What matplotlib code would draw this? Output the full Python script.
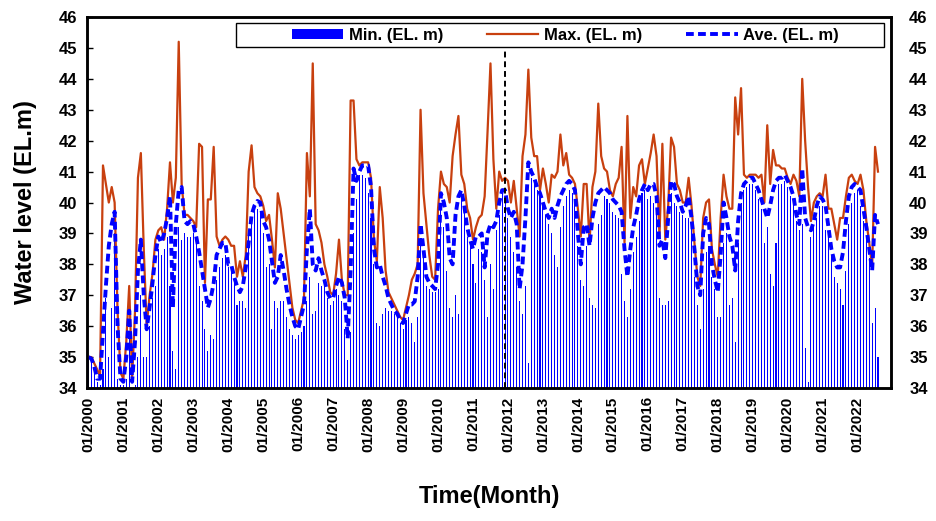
import matplotlib
matplotlib.use("Agg")
import matplotlib.pyplot as plt
from matplotlib.patches import Rectangle, Patch
from matplotlib.lines import Line2D
import numpy as np

plt.rcParams['font.family'] = ['Liberation Sans', 'DejaVu Sans']

# Monthly values, 01/2000 .. 08/2022 (EL. m)
min_2000_2005 = [
    34.9, 34.8, 34.6, 34.2, 34.1, 34.6, 36.9, 35.0, 36.6, 39.0, 34.3, 34.1,
    34.1, 34.3, 35.6, 34.0, 34.1, 35.0, 37.0, 35.0, 35.0, 36.0, 36.9, 37.3,
    38.5, 38.3, 38.5, 38.9, 37.3, 35.2, 34.6, 39.2, 38.8, 39.0, 38.9, 38.9,
    39.0, 38.7, 37.3, 36.8, 35.9, 35.2, 35.7, 35.6, 37.5, 37.9, 38.2, 38.3,
    37.9, 37.8, 37.4, 36.7, 36.8, 36.8, 36.6, 39.0, 39.3, 39.8, 39.8, 39.7,
    39.0, 37.9, 38.0, 35.9, 36.8, 36.6, 36.8, 36.8, 36.3, 35.9, 35.7, 35.6]
min_2006_2011 = [
    35.7, 35.8, 36.0, 36.8, 37.6, 36.4, 36.5, 37.4, 37.3, 37.3, 36.9, 36.7,
    36.8, 37.2, 37.0, 36.8, 35.9, 34.9, 35.8, 39.0, 40.1, 40.9, 40.9, 40.8,
    40.3, 39.5, 38.0, 36.1, 36.0, 36.4, 36.6, 36.5, 36.5, 36.4, 36.3, 36.1,
    35.9, 36.2, 36.3, 36.1, 35.5, 36.3, 38.6, 38.3, 37.3, 37.2, 37.1, 37.1,
    37.2, 40.0, 39.2, 37.8, 36.6, 36.3, 37.0, 36.4, 40.2, 39.8, 38.9, 38.6,
    38.0, 37.4, 38.5, 38.4, 37.5, 36.3, 38.0, 37.2, 39.1, 39.6, 40.3, 40.0]
min_2012_2017 = [
    39.5, 38.9, 38.4, 37.9, 36.8, 36.4, 37.3, 34.8, 40.8, 40.6, 40.4, 40.2,
    39.9, 39.6, 39.3, 39.0, 38.3, 37.9, 39.2, 39.9, 40.2, 40.4, 40.3, 40.0,
    38.6, 37.5, 37.3, 38.6, 36.9, 36.7, 36.6, 39.3, 39.6, 40.2, 40.1, 40.0,
    39.7, 39.6, 39.5, 37.7, 36.8, 36.3, 37.2, 38.4, 38.9, 39.4, 40.3, 40.4,
    40.1, 40.2, 40.0, 39.8, 36.9, 36.7, 36.7, 36.8, 40.3, 40.0, 39.9, 39.7,
    39.6, 39.5, 39.5, 39.3, 37.6, 36.7, 35.9, 37.2, 38.4, 38.6, 37.6, 37.2]
min_2018_2022 = [
    36.3, 36.3, 38.7, 39.0, 36.7, 36.9, 35.5, 38.7, 40.0, 40.4, 40.5, 40.6,
    40.6, 40.4, 40.1, 39.8, 38.7, 39.2, 37.7, 37.3, 38.7, 40.6, 40.6, 40.7,
    40.5, 40.2, 40.0, 39.4, 39.1, 39.3, 35.3, 34.2, 38.9, 39.2, 39.5, 39.9,
    39.9, 39.1, 38.9, 38.3, 37.6, 37.4, 37.2, 36.7, 37.8, 39.3, 40.0, 40.3,
    40.4, 39.9, 39.4, 38.9, 38.2, 36.1, 36.6, 35.0]

max_2000_2005 = [
    35.0, 35.0, 34.8, 34.6, 34.4, 41.2, 40.6, 40.0, 40.5, 40.0, 36.5, 34.5,
    34.3, 35.5, 37.3, 34.3, 36.5, 40.8, 41.6, 38.5, 36.0, 37.0, 37.7, 38.8,
    39.1, 39.2, 38.8, 39.8, 41.3, 40.0, 40.8, 45.2, 40.6, 39.6, 39.6, 39.5,
    39.4, 39.2, 41.9, 41.8, 37.4, 40.1, 40.1, 41.8, 38.9, 38.6, 38.8, 38.9,
    38.8, 38.6, 38.6, 37.6, 38.1, 37.6, 38.3, 41.0, 41.85, 40.5, 40.3, 40.2,
    39.9, 39.4, 39.6, 38.8, 37.9, 40.3, 39.8, 39.0, 38.2, 37.4, 36.6, 36.2]
max_2006_2011 = [
    36.1, 36.5, 36.9, 41.6, 40.2, 44.5, 39.3, 39.1, 38.7, 38.0, 37.6, 37.1,
    37.0, 37.7, 38.8, 37.5, 37.0, 37.0, 43.3, 43.3, 41.4, 41.2, 41.3, 41.3,
    41.3, 40.8, 38.8, 38.1, 40.5, 39.5, 37.8, 37.1, 36.9, 36.7, 36.5, 36.3,
    36.2, 36.6, 37.0, 37.5, 37.7, 38.0, 43.0, 40.3, 39.3, 38.3, 37.6, 37.5,
    39.8, 41.0, 40.6, 40.5, 40.0, 41.5, 42.2, 42.8, 40.9, 40.6, 39.8, 39.5,
    38.8, 39.2, 39.5, 39.6, 40.2, 42.3, 44.5, 41.4, 39.8, 41.0, 40.7, 40.8]
max_2012_2017 = [
    40.7, 40.0, 40.7, 39.8, 38.9, 41.5, 42.2, 44.3, 42.1, 41.5, 41.5, 40.4,
    41.1, 40.6, 40.0, 40.9, 40.8, 41.0, 42.2, 41.2, 41.6, 40.9, 40.8, 40.6,
    39.8, 38.9, 40.6, 40.6, 38.7, 40.5, 41.0, 43.2, 41.5, 41.1, 41.0, 40.4,
    40.2, 40.6, 40.8, 41.8, 38.7, 42.8, 39.5, 40.5, 40.2, 41.2, 41.4, 40.6,
    41.1, 41.6, 42.2, 41.5, 38.9, 41.9, 38.8, 39.9, 42.1, 41.8, 40.6, 40.4,
    40.0, 40.0, 40.8, 39.9, 38.7, 37.6, 37.3, 39.5, 40.0, 40.1, 38.5, 38.0]
max_2018_2022 = [
    37.6, 39.5, 40.9, 40.2, 39.8, 39.8, 43.4, 42.2, 43.7, 40.9, 40.8, 40.9,
    40.9, 40.9, 40.8, 40.9, 40.0, 42.5, 40.6, 41.7, 41.2, 41.2, 41.1, 41.1,
    40.8, 40.6, 40.9, 40.7, 40.2, 44.0, 42.0, 40.5, 39.4, 40.0, 40.2, 40.3,
    40.2, 40.9, 39.8, 39.8, 39.3, 38.8, 39.5, 39.5, 40.2, 40.8, 40.9, 40.7,
    40.6, 40.9, 40.4, 39.4, 38.7, 37.9, 41.8, 41.0]

ave_2000_2005 = [
    35.0, 34.95, 34.7, 34.3, 34.3, 35.8, 37.3, 38.6, 39.3, 39.7, 36.0, 34.3,
    34.2, 35.0, 36.5, 34.2, 35.5, 37.8, 38.8, 37.0, 35.9, 36.6, 37.4, 38.3,
    38.9, 38.7, 39.0, 39.5, 40.2, 36.6, 39.3, 40.4, 40.5, 39.4, 39.3, 39.4,
    39.3, 38.9, 38.4, 37.8, 37.2, 36.6, 36.9, 37.4, 38.3, 38.5, 38.7, 38.7,
    38.0, 38.0, 37.6, 37.3, 37.1, 37.3, 37.9, 38.7, 39.6, 39.9, 40.05, 40.0,
    39.4, 39.2, 38.8, 38.1, 37.4, 37.6, 38.3, 37.8, 37.2, 36.7, 36.3, 36.0]
ave_2006_2011 = [
    35.9, 36.3, 36.7, 38.5, 39.8, 38.0, 37.8, 38.2, 37.8, 37.5, 37.1, 36.9,
    36.9, 37.3, 37.6, 37.4, 36.9, 35.6, 37.8, 41.1, 40.7, 41.0, 41.2, 41.2,
    41.2, 40.5, 38.5, 37.9, 38.0, 37.6, 37.3, 36.9, 36.7, 36.5, 36.4, 36.2,
    36.1, 36.4, 36.7, 36.7, 36.8, 37.6, 39.3, 38.5, 37.6, 37.4, 37.3, 37.2,
    38.0, 40.3, 40.0, 39.5, 38.2, 38.0, 39.6, 40.2, 40.4, 39.9, 39.2, 38.8,
    38.5, 38.9, 38.9, 39.0, 37.9, 39.0, 39.3, 39.2, 39.4, 40.0, 40.4, 40.4]
ave_2012_2017 = [
    39.8, 39.5, 39.7, 39.3, 37.2, 38.0, 39.5, 41.3, 41.0, 40.8, 40.5, 40.3,
    40.0, 39.7, 39.5, 39.8, 39.5, 39.9, 40.2, 40.4, 40.6, 40.7, 40.6, 40.4,
    39.0, 38.0, 39.2, 39.3, 38.6, 39.5, 40.0, 40.3, 40.4, 40.5, 40.4, 40.3,
    40.1, 40.0, 39.9, 39.7, 38.5, 37.6, 38.5, 39.2, 39.6, 40.1, 40.4, 40.6,
    40.4, 40.6, 40.6, 40.2, 38.6, 38.8, 38.2, 39.5, 40.7, 40.6, 40.2, 40.0,
    39.7, 39.9, 40.2, 39.5, 38.5, 37.3, 37.0, 39.0, 39.5, 39.3, 38.0, 37.5]
ave_2018_2022 = [
    37.1, 38.3, 40.0, 39.5, 38.9, 38.6, 37.8, 39.4, 40.3, 40.6, 40.7, 40.8,
    40.8, 40.6, 40.4, 40.1, 39.8, 39.5, 39.9, 40.4, 40.7, 40.8, 40.8, 40.9,
    40.7, 40.5, 40.2, 39.6, 39.3, 41.1, 39.5, 39.2, 39.1, 39.4, 39.9, 40.2,
    40.1, 39.9, 39.2, 38.5, 38.1, 37.9, 37.9, 38.4, 39.4, 40.2, 40.5, 40.6,
    40.5, 40.4, 39.8, 39.2, 38.5, 37.8, 39.6, 39.3]

years = list(range(2000, 2023))
tick_labels = [f"01/{y}" for y in years]
n_categories = 276          # 01/2000 .. 12/2022 on the category axis
flood_marker = 143          # 12/2011 dashed divider
marker_top = 44.93          # divider stops at the legend box

min_vals = min_2000_2005 + min_2006_2011 + min_2012_2017 + min_2018_2022
max_vals = max_2000_2005 + max_2006_2011 + max_2012_2017 + max_2018_2022
ave_vals = ave_2000_2005 + ave_2006_2011 + ave_2012_2017 + ave_2018_2022
x = np.arange(len(min_vals))

fig = plt.figure(figsize=(9.37, 5.21), dpi=100)
ax = fig.add_axes([0.0928, 0.2553, 0.8582, 0.7120])

ax.bar(x, min_vals, width=0.36, color='#0000FF', zorder=2)
ax.plot(x, max_vals, color='#C8400F', lw=1.6, zorder=3)
ax.plot(x, ave_vals, color='#0000FF', lw=2.8, linestyle=(0, (2.0, 1.1)), zorder=4)
ax.vlines(flood_marker, 34, marker_top, color='black', lw=1.4,
          linestyle=(0, (3, 2)), zorder=5)

ax.set_ylim(34, 46)
ax.set_xlim(-0.5, n_categories - 0.5)
ax.set_yticks(range(34, 47))
ax.set_yticklabels([str(v) for v in range(34, 47)], fontsize=12, fontweight='bold')
ax.set_xticks(range(0, len(years) * 12, 12))
ax.set_xticklabels(tick_labels, rotation=90, fontsize=11, fontweight='bold')
ax.tick_params(axis='y', direction='in', length=4, width=1, pad=7)
ax.tick_params(axis='x', length=0, pad=6)
for s in ax.spines.values():
    s.set_linewidth(1.8)

ax2 = ax.twinx()
ax2.set_ylim(34, 46)
ax2.set_yticks(range(34, 47))
ax2.set_yticklabels([str(v) for v in range(34, 47)], fontsize=12, fontweight='bold')
ax2.tick_params(axis='y', length=0, pad=13)
for s in ax2.spines.values():
    s.set_linewidth(1.8)

ax.set_ylabel('Water level (EL.m)', fontsize=17, fontweight='bold', labelpad=16)
ax.set_xlabel('Time(Month)', fontsize=17, fontweight='bold', labelpad=24)

# legend box
rect = Rectangle((0.1853, 0.919), 0.806, 0.065, transform=ax.transAxes,
                 facecolor='white', edgecolor='black', lw=1.0, zorder=6)
ax2.add_patch(rect)
handles = [Patch(facecolor='#0000FF'),
           Line2D([], [], color='#C8400F', lw=1.6),
           Line2D([], [], color='#0000FF', lw=2.8, linestyle=(0, (2.0, 1.1)))]
leg = ax2.legend(handles, ['Min. (EL. m)', 'Max. (EL. m)', 'Ave. (EL. m)'],
                 loc='center left', bbox_to_anchor=(0.24, 0.951), ncol=3,
                 frameon=False, prop={'weight': 'bold', 'size': 12},
                 handlelength=3.1, handleheight=0.6, handletextpad=0.35,
                 columnspacing=2.6, borderpad=0.2)
leg.set_zorder(7)

fig.savefig('out.png', dpi=100)
